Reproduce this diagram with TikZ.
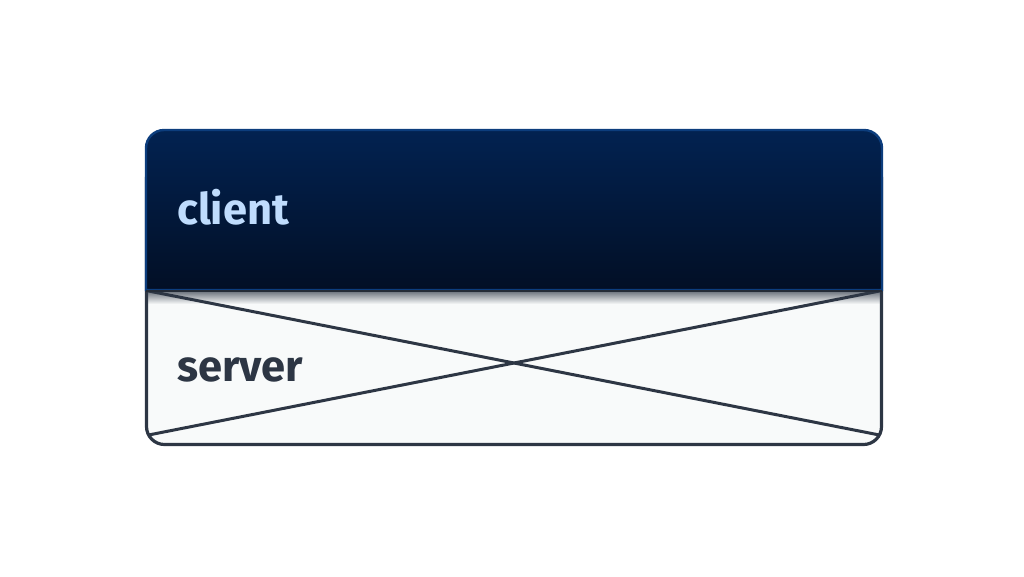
\documentclass[tikz,border=0pt]{standalone}
\usepackage{fontspec}
\setmainfont{Fira Sans}
\definecolor{navyT}{HTML}{022251}
\definecolor{navyB}{HTML}{020F25}
\definecolor{navyEdge}{HTML}{0C3D7D}
\definecolor{ink}{HTML}{2D3644}
\definecolor{paper}{HTML}{F8FAFA}
\definecolor{clienttext}{HTML}{BFDCFD}
\tikzset{
  label text/.style={anchor=base west, inner sep=0pt, font=\fontsize{43.5}{44}\selectfont\bfseries},
  frame line/.style={draw=ink, line width=3.2pt},
  cross line/.style={draw=ink, line width=3pt},
}
\begin{document}
\begin{tikzpicture}[x=1pt,y=-1pt]
\useasboundingbox (0,0) rectangle (1024,576);
\coordinate (ftl) at (146.5,160);
\coordinate (fbr) at (881.5,444.5);
\coordinate (xl1) at (146,290.5);
\coordinate (xr1) at (882,435.5);
\coordinate (xl2) at (146,435.5);
\coordinate (xr2) at (882,290.5);
% lower frame
\fill[paper, rounded corners=18pt] (ftl) rectangle (fbr);
\begin{scope}
  \clip[rounded corners=18pt] (ftl) rectangle (fbr);
  \shade[top color=ink!75!paper, bottom color=paper] (146,290) rectangle (882,304);
  \draw[cross line] (xl1) -- (xr1);
  \draw[cross line] (xl2) -- (xr2);
\end{scope}
\draw[frame line, rounded corners=18pt] (ftl) rectangle (fbr);
% client block
\shade[top color=navyT, bottom color=navyB, draw=navyEdge, line width=2.4pt]
  (146,290) [rounded corners=18pt] -- (146,130) -- (882,130) [sharp corners] -- (882,290) -- cycle;
\draw[ink!80!black, line width=2pt] (146,290.5) -- (882,290.5);
\node[label text, text=clienttext] (client) at (177,224) {client};
\node[label text, text=ink] (server) at (177,381) {server};
\end{tikzpicture}
\end{document}
